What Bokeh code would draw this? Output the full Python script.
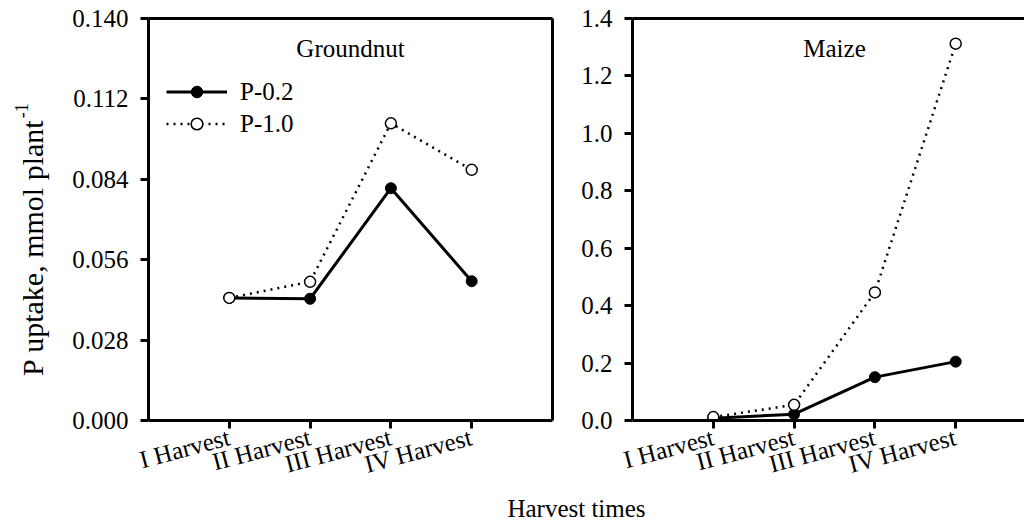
from math import pi
from bokeh.plotting import figure
from bokeh.models import (Range1d, FixedTicker, LinearAxis, Label, Legend,
                          LegendItem, PrintfTickFormatter)
from bokeh.layouts import row, column
from bokeh.embed import file_html
from bokeh.resources import INLINE

# ---------------- data ----------------
harvests = ["I Harvest", "II Harvest", "III Harvest", "IV Harvest"]
groundnut_p02 = [0.0427, 0.0424, 0.0809, 0.0485]
groundnut_p10 = [0.0427, 0.0483, 0.1035, 0.0873]
maize_p02 = [0.008, 0.022, 0.151, 0.205]
maize_p10 = [0.012, 0.0545, 0.446, 1.3125]
groundnut_ticks = [0.000, 0.028, 0.056, 0.084, 0.112, 0.140]
maize_ticks = [0.0, 0.2, 0.4, 0.6, 0.8, 1.0, 1.2, 1.4]
series_labels = ["P-0.2", "P-1.0"]
panel_titles = ["Groundnut", "Maize"]
y_label = "P uptake, mmol plant"
y_label_sup = "-1"
x_label = "Harvest times"

# ---------------- style ----------------
FONT = "Liberation Serif"
FS = "25px"
TOP, BOTTOM = 18, 72
FRAME_H = 403
H = TOP + FRAME_H + BOTTOM
PX_PER_X = 80.8
YLAB_W = 60

xs = list(range(1, len(harvests) + 1))


def frame_axis(p, side):
    ax = LinearAxis(ticker=FixedTicker(ticks=[]), axis_line_width=3,
                    axis_line_color="black", major_tick_out=0, major_tick_in=0,
                    minor_tick_out=0, minor_tick_in=0, major_label_standoff=0,
                    axis_label_standoff=0, major_label_text_font_size="0px")
    p.add_layout(ax, side)


def make_panel(title, yticks, yfmt, s02, s10, width, bl, br, frame_w, right_border):
    x_end = frame_w / PX_PER_X
    p = figure(width=width, height=H, output_backend="svg", toolbar_location=None,
               x_range=Range1d(0, x_end), y_range=Range1d(yticks[0], yticks[-1]),
               min_border_left=bl, min_border_right=br, min_border_top=TOP,
               min_border_bottom=BOTTOM)
    p.outline_line_color = None
    p.grid.visible = False
    p.background_fill_color = "white"
    p.border_fill_color = "white"

    for ax in p.axis:
        ax.axis_line_width = 3
        ax.axis_line_color = "black"
        ax.major_tick_line_width = 3
        ax.major_tick_line_color = "black"
        ax.major_tick_out = 8
        ax.major_tick_in = 0
        ax.minor_tick_out = 0
        ax.minor_tick_in = 0
        ax.major_label_text_font = FONT
        ax.major_label_text_font_size = FS
        ax.major_label_text_color = "black"

    p.xaxis.ticker = FixedTicker(ticks=xs)
    p.xaxis.major_label_overrides = {x: h for x, h in zip(xs, harvests)}
    p.xaxis.major_label_orientation = 0.26
    p.xaxis.major_label_standoff = 8

    p.yaxis.ticker = FixedTicker(ticks=yticks)
    p.yaxis.formatter = PrintfTickFormatter(format=yfmt)
    p.yaxis.major_label_standoff = 12

    frame_axis(p, "above")
    if right_border:
        frame_axis(p, "right")

    l1 = p.line(xs, s02, line_color="black", line_width=3)
    m1 = p.scatter(xs, s02, marker="circle", size=11, fill_color="black",
                   line_color="black", line_width=1)
    l2 = p.line(xs, s10, line_color="black", line_width=2.5, line_dash="2 5")
    m2 = p.scatter(xs, s10, marker="circle", size=11, fill_color="white",
                   line_color="black", line_width=1.5)

    ytop = yticks[-1]
    yspan = yticks[-1] - yticks[0]
    title_y = ytop - 30 * yspan / FRAME_H
    p.add_layout(Label(x=2.5, y=title_y, text=title, text_font=FONT,
                       text_font_size=FS, text_align="center",
                       text_baseline="middle", text_color="black"))
    return p, (l1, m1, l2, m2)


# left panel: frame 148..552 on the page, right panel frame 632..1024
p1, r1 = make_panel(panel_titles[0], groundnut_ticks, "%.3f", groundnut_p02,
                    groundnut_p10, 566 - YLAB_W, 148 - YLAB_W, 14, 404, True)
p2, r2 = make_panel(panel_titles[1], maize_ticks, "%.1f", maize_p02,
                    maize_p10, 458, 66, 0, 392, False)

legend = Legend(items=[LegendItem(label=series_labels[0], renderers=[r1[0], r1[1]]),
                       LegendItem(label=series_labels[1], renderers=[r1[2], r1[3]])],
                location=(18, 282), label_text_font=FONT, label_text_font_size=FS,
                label_text_color="black",
                glyph_width=61, glyph_height=29, label_height=29, label_standoff=13,
                spacing=3, padding=0, margin=0, border_line_color=None,
                background_fill_alpha=0)
p1.add_layout(legend)

# y axis label strip (rotated text with superscript); its frame is aligned
# with the panels' frames, so data y = distance above the frame bottom
p0 = figure(width=YLAB_W, height=H, output_backend="svg", toolbar_location=None,
            x_range=Range1d(0, YLAB_W), y_range=Range1d(0, FRAME_H), min_border=0)
p0.axis.visible = False
p0.grid.visible = False
p0.outline_line_color = None
frame_bottom_page = TOP + FRAME_H
junction = 119  # page y where main text ends and superscript begins
p0.add_layout(Label(x=32, y=frame_bottom_page - junction, text=y_label,
                    text_font=FONT, text_font_size="30px", angle=pi / 2,
                    text_align="right", text_baseline="middle", text_color="black"))
p0.add_layout(Label(x=21, y=frame_bottom_page - junction + 1, text=y_label_sup,
                    text_font=FONT, text_font_size="18px", angle=pi / 2,
                    text_align="left", text_baseline="middle", text_color="black"))

# bottom x label strip
B_H = 522 - H
p3 = figure(width=1024, height=B_H, output_backend="svg", toolbar_location=None,
            x_range=Range1d(0, 1024), y_range=Range1d(0, B_H), min_border=0)
p3.axis.visible = False
p3.grid.visible = False
p3.outline_line_color = None
p3.add_layout(Label(x=576, y=B_H - (508 - H), text=x_label, text_font=FONT,
                    text_font_size=FS, text_align="center", text_baseline="middle",
                    text_color="black"))

layout = column(row(p0, p1, p2), p3)
open("out.html", "w").write(file_html(layout, INLINE))
